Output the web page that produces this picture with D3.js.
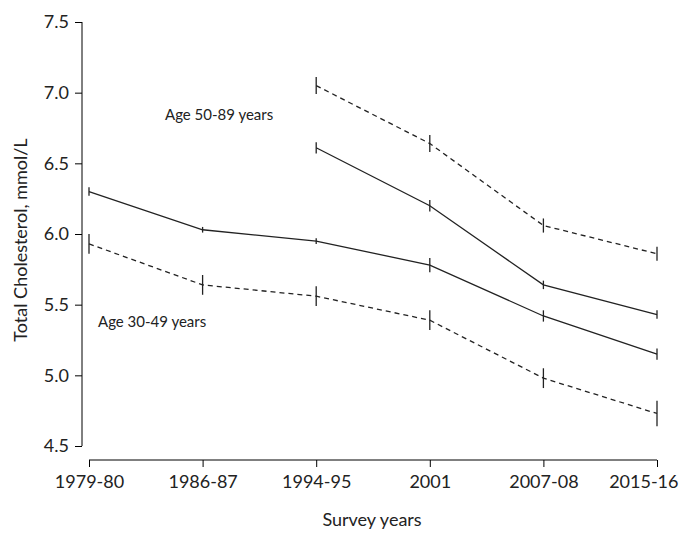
<!DOCTYPE html>
<html><head><meta charset="utf-8">
<script src="https://cdn.jsdelivr.net/npm/d3@7"></script>
<style>body{margin:0;background:#fff}text{font-family:Lato,sans-serif;fill:#222}</style>
</head><body><script>
const years = ["1979-80", "1986-87", "1994-95", "2001", "2007-08", "2015-16"];
const yTicks = [4.5, 5.0, 5.5, 6.0, 6.5, 7.0, 7.5];
// [value, error half-length]
const young1 = [[6.30,0.03],[6.03,0.02],[5.95,0.02],[5.78,0.05],[5.42,0.04],[5.15,0.04]];
const young2 = [[5.93,0.07],[5.64,0.07],[5.56,0.07],[5.39,0.07],[4.98,0.07],[4.73,0.09]];
const old1 = [null,null,[6.61,0.04],[6.20,0.04],[5.64,0.03],[5.43,0.03]];
const old2 = [null,null,[7.05,0.06],[6.64,0.06],[6.06,0.05],[5.86,0.05]];

const width = 680, height = 533;
const svg = d3.select("body").append("svg").attr("width", width).attr("height", height);
const x = d3.scalePoint().domain(years).range([89, 657]);
const y = d3.scaleLinear().domain([4.5, 7.5]).range([446, 22]);

svg.append("g").attr("transform", "translate(82,0)")
  .call(d3.axisLeft(y).tickValues(yTicks).tickFormat(d3.format(".1f")).tickSize(7).tickPadding(6))
  .call(g => g.select(".domain").attr("d", "M0,22V446"))
  .call(g => g.selectAll("text").attr("font-size", 18).style("font-family", "Lato"));
svg.append("g").attr("transform", "translate(0,460)")
  .call(d3.axisBottom(x).tickSize(7).tickPadding(8))
  .call(g => g.select(".domain").attr("d", "M89,0H657"))
  .call(g => g.selectAll("text").attr("font-size", 18).style("font-family", "Lato"))
  .call(g => g.selectAll(".tick:last-of-type text").attr("text-anchor", "end").attr("dx", 21));

function series(data, dash) {
  const pts = data.map((d, i) => d && { x: x(years[i]), v: d[0], e: d[1] }).filter(Boolean);
  svg.append("path").datum(pts)
    .attr("d", d3.line().x(d => d.x).y(d => y(d.v)))
    .attr("fill", "none").attr("stroke", "#222").attr("stroke-width", 1.3)
    .attr("stroke-dasharray", dash ? "5,4" : null);
  svg.append("g").selectAll("line").data(pts).join("line")
    .attr("x1", d => d.x).attr("x2", d => d.x)
    .attr("y1", d => y(d.v - d.e)).attr("y2", d => y(d.v + d.e))
    .attr("stroke", "#222").attr("stroke-width", 1.3);
}
series(young1, false); series(young2, true);
series(old1, false); series(old2, true);

svg.append("text").attr("x", 165).attr("y", 120).attr("font-size", 15).text("Age 50-89 years");
svg.append("text").attr("x", 98).attr("y", 327).attr("font-size", 15).text("Age 30-49 years");
svg.append("text").attr("transform", "translate(27,240) rotate(-90)").attr("text-anchor", "middle")
  .attr("font-size", 18).text("Total Cholesterol, mmol/L");
svg.append("text").attr("x", 372).attr("y", 526).attr("text-anchor", "middle")
  .attr("font-size", 18).text("Survey years");
</script></body></html>
